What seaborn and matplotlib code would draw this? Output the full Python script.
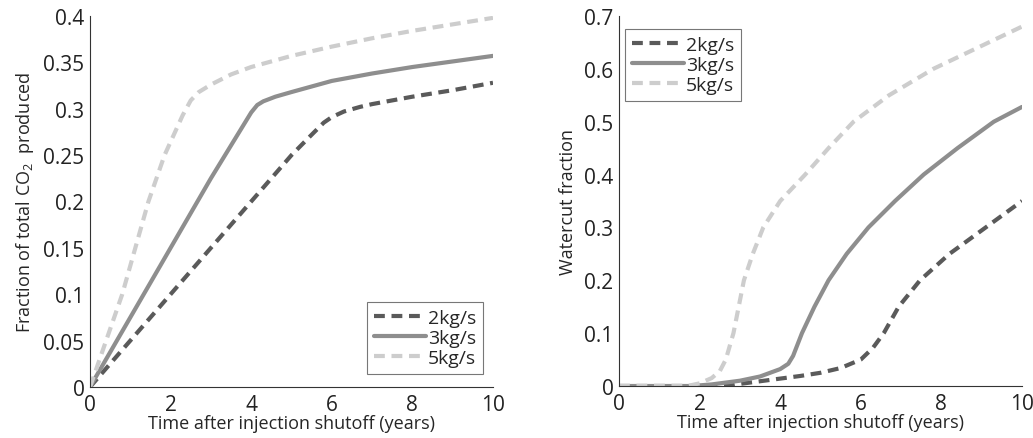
import numpy as np
import pandas as pd
import seaborn as sns
import matplotlib
matplotlib.use("Agg")
import matplotlib.pyplot as plt
from matplotlib.ticker import FuncFormatter, MultipleLocator

# Left panel: fraction of total CO2 produced
t_co2_2 = [0, 1, 2, 3, 4, 5, 5.5, 5.8, 6, 6.3, 6.7, 7, 8, 9, 10]
co2_2 = [0, 0.05, 0.1, 0.15, 0.2, 0.25, 0.272, 0.285, 0.291, 0.297, 0.302, 0.305, 0.313, 0.32, 0.328]
t_co2_3 = [0, 1, 2, 3, 4, 4.15, 4.3, 4.6, 5, 5.5, 6, 7, 8, 9, 10]
co2_3 = [0, 0.075, 0.15, 0.225, 0.296, 0.304, 0.308, 0.313, 0.318, 0.324, 0.33, 0.338, 0.345, 0.351, 0.357]
t_co2_5 = [0, 0.4, 0.8, 1.45, 1.85, 2.3, 2.5, 2.7, 3, 3.5, 4, 5, 6, 7, 8, 9, 10]
co2_5 = [0, 0.05, 0.1, 0.2, 0.25, 0.293, 0.309, 0.318, 0.326, 0.337, 0.345, 0.357, 0.367, 0.376, 0.384, 0.391, 0.398]

# Right panel: watercut fraction
t_wc_2 = [0, 2.7, 3, 3.5, 4, 4.5, 5, 5.5, 6, 6.3, 6.57, 6.94, 7.47, 8.2, 9.1, 10]
wc_2 = [0, 0, 0.004, 0.009, 0.014, 0.019, 0.025, 0.034, 0.05, 0.072, 0.1, 0.15, 0.2, 0.25, 0.3, 0.35]
t_wc_3 = [0, 1.8, 2.3, 3, 3.5, 4, 4.2, 4.32, 4.54, 4.85, 5.2, 5.65, 6.19, 6.85, 7.56, 8.4, 9.3, 10]
wc_3 = [0, 0, 0.003, 0.01, 0.018, 0.032, 0.042, 0.057, 0.1, 0.15, 0.2, 0.25, 0.3, 0.35, 0.4, 0.45, 0.5, 0.528]
t_wc_5 = [0, 1.7, 2, 2.3, 2.5, 2.65, 2.84, 2.97, 3.1, 3.32, 3.58, 4, 4.62, 5.2, 5.82, 6.7, 7.8, 8.9, 10]
wc_5 = [0, 0, 0.005, 0.015, 0.028, 0.05, 0.1, 0.15, 0.2, 0.25, 0.3, 0.35, 0.4, 0.45, 0.5, 0.55, 0.6, 0.64, 0.68]

labels = ["2kg/s", "3kg/s", "5kg/s"]
colors = ["#5a5a5a", "#8e8e8e", "#cdcdcd"]
dashed = [True, False, True]

sns.set_theme(style="white")
plt.rcParams["font.family"] = ["Open Sans", "DejaVu Sans"]
plt.rcParams["mathtext.fontset"] = "custom"
plt.rcParams["mathtext.rm"] = "Open Sans"
plt.rcParams["mathtext.it"] = "Open Sans"

fig = plt.figure(figsize=(10.33, 4.39), dpi=100)
ax1 = fig.add_axes([90 / 1033, 1 - 388 / 439, 403 / 1033, 371 / 439])
ax2 = fig.add_axes([619 / 1033, 1 - 387 / 439, 403 / 1033, 370 / 439])

left = [(t_co2_2, co2_2), (t_co2_3, co2_3), (t_co2_5, co2_5)]
right = [(t_wc_2, wc_2), (t_wc_3, wc_3), (t_wc_5, wc_5)]

fmt = FuncFormatter(lambda v, p: f"{v:g}")

for ax, series in [(ax1, left), (ax2, right)]:
    for (x, y), lab, c, d in zip(series, labels, colors, dashed):
        sns.lineplot(x=x, y=y, ax=ax, color=c, lw=3, label=lab)
        if d:
            ax.lines[-1].set_dashes((2.6, 1.6))
    ax.set_xlim(0, 10)
    ax.xaxis.set_major_locator(MultipleLocator(2))
    ax.xaxis.set_major_formatter(fmt)
    ax.yaxis.set_major_formatter(fmt)
    ax.set_xlabel("Time after injection shutoff (years)", fontsize=13, labelpad=-1)
    ax.tick_params(direction="in", length=4, width=0.8, labelsize=15,
                   colors="#222222")
    ax.tick_params(axis="x", pad=5)
    ax.tick_params(axis="y", pad=4)
    for s in ["top", "right"]:
        ax.spines[s].set_visible(False)
    for s in ["left", "bottom"]:
        ax.spines[s].set_color("#333333")
        ax.spines[s].set_linewidth(0.8)

ax1.set_ylim(0, 0.4)
ax1.yaxis.set_major_locator(MultipleLocator(0.05))
ax1.set_ylabel("Fraction of total CO$_2$  produced", fontsize=13, labelpad=5)
ax2.set_ylim(0, 0.7)
ax2.yaxis.set_major_locator(MultipleLocator(0.1))
ax2.set_ylabel("Watercut fraction", fontsize=13, labelpad=5)

for ax, loc, anchor in [(ax1, "lower right", (0.99, 0.02)), (ax2, "upper left", (0.0, 0.98))]:
    leg = ax.legend(loc=loc, bbox_to_anchor=anchor, fontsize=14, frameon=True,
                    fancybox=False, edgecolor="#555555", handlelength=2.7,
                    handletextpad=0.1, borderpad=0.35, labelspacing=0.1,
                    borderaxespad=0.3)
    leg.get_frame().set_linewidth(0.8)

fig.savefig("out.png", dpi=100)
